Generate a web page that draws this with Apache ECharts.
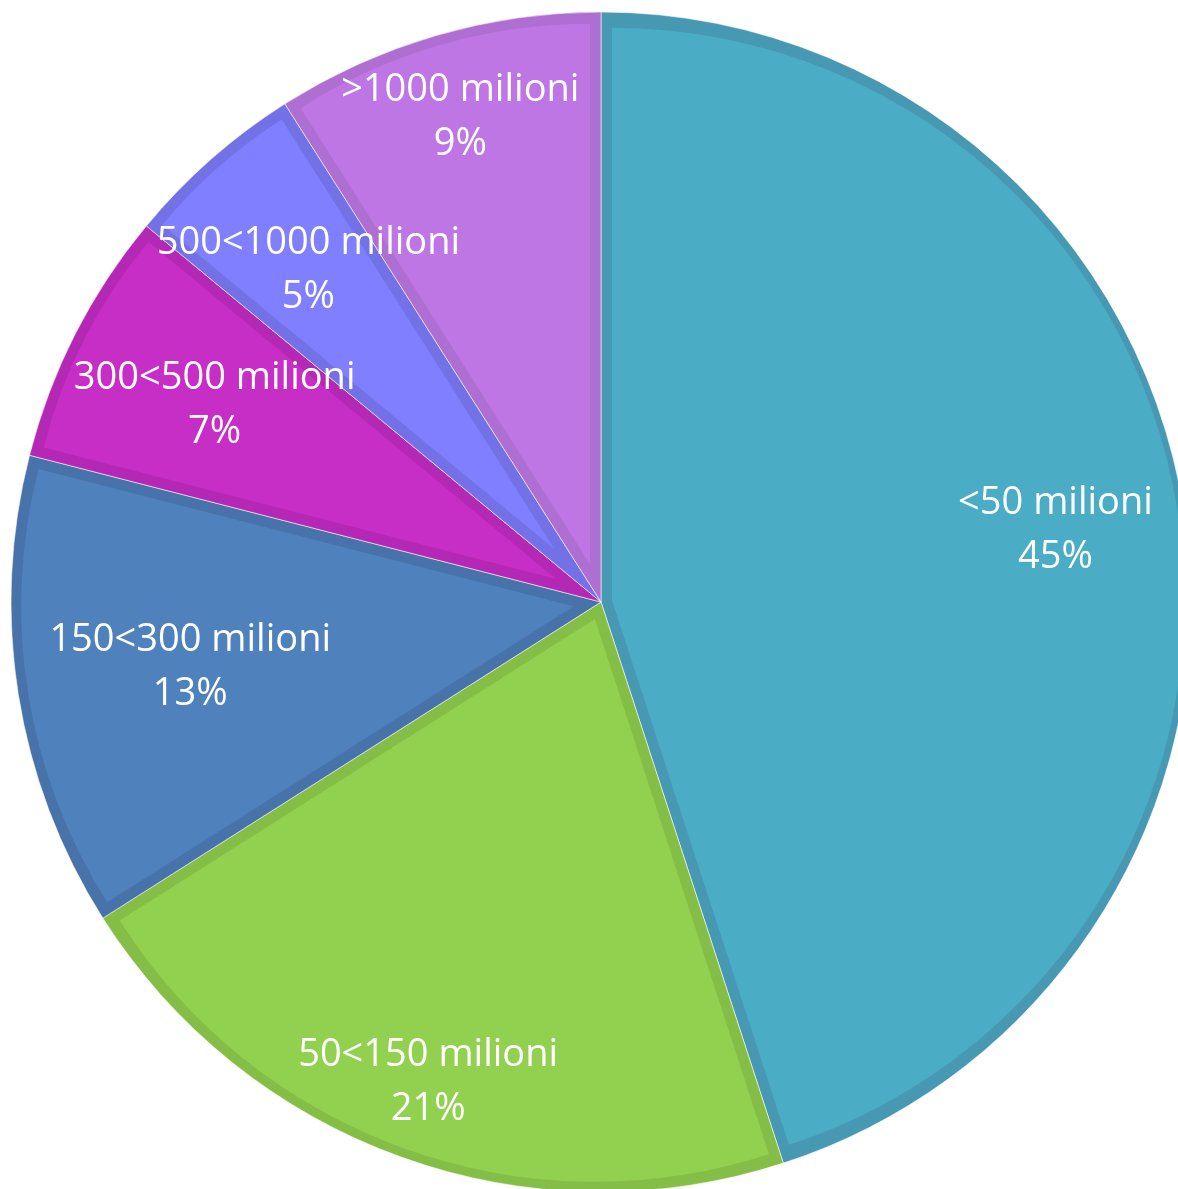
<!DOCTYPE html>
<html>
<head>
<meta charset="utf-8">
<title>Distribuzione per fascia</title>
<script src="https://cdn.jsdelivr.net/npm/echarts@6/dist/echarts.min.js"></script>
<style>
  html, body { margin: 0; padding: 0; background: #ffffff; }
  #chart { width: 1178px; height: 1189px; }
</style>
</head>
<body>
<div id="chart"></div>
<script>
// Fasce di valore e quote percentuali
const categories = ['<50 milioni', '50<150 milioni', '150<300 milioni', '300<500 milioni', '500<1000 milioni', '>1000 milioni'];
const shares = [45, 21, 13, 7, 5, 9];

// Colori di riempimento e dei bordi interni di ciascuna fetta
const fillColors = ['#4BACC6', '#92D050', '#4F81BD', '#C62EC6', '#7F7FFF', '#BE76E4'];
const edgeColors = ['#4799B3', '#85BE47', '#4773AA', '#B527B5', '#7272E6', '#AF6ED1'];

// Distanza radiale delle etichette (frazione del raggio)
const labelRadius = [0.785, 0.87, 0.71, 0.74, 0.755, 0.86];

const CENTER = [601, 602];
const R = 590;
const INSET = 11; // spessore del bordo interno

const chart = echarts.init(document.getElementById('chart'), null, { renderer: 'canvas' });

const total = shares.reduce((a, b) => a + b, 0);

function items(colors) {
  return categories.map((name, i) => ({
    name: name,
    value: shares[i],
    itemStyle: { color: colors ? colors[i] : 'rgba(0,0,0,0)' }
  }));
}

const series = [
  // fette piene nel colore scuro: restano visibili come bordo
  {
    type: 'pie',
    z: 1,
    center: CENTER,
    radius: R,
    startAngle: 90,
    clockwise: true,
    silent: true,
    label: { show: false },
    labelLine: { show: false },
    itemStyle: { borderColor: 'rgba(255,255,255,0.55)', borderWidth: 1 },
    data: items(edgeColors)
  }
];

// riempimento chiaro di ogni fetta: stessa apertura, spostato lungo la bisettrice
// così i due lati restano a distanza costante dai lati della fetta scura
categories.forEach((name, k) => {
  const half = Math.PI * shares[k] / total;
  const shift = INSET / Math.sin(half);
  const r = R - INSET - shift * (1 + Math.cos(half)) / 2;
  series.push({
    type: 'pie',
    z: 2,
    center: CENTER,
    radius: r,
    startAngle: 90,
    clockwise: true,
    silent: true,
    selectedMode: 'multiple',
    selectedOffset: shift,
    label: { show: false },
    labelLine: { show: false },
    itemStyle: { borderWidth: 0 },
    select: { itemStyle: { color: fillColors[k], borderWidth: 0 } },
    data: items(null).map((d, i) => Object.assign(d, {
      selected: i === k,
      itemStyle: { color: i === k ? fillColors[k] : 'rgba(0,0,0,0)', borderWidth: 0 }
    }))
  });
});

// una serie trasparente per etichetta, ognuna con la propria distanza dal centro
categories.forEach((name, k) => {
  const f = labelRadius[k];
  series.push({
    type: 'pie',
    z: 5,
    center: CENTER,
    radius: [(2 * f - 1) * R - 6, R - 6],
    startAngle: 90,
    clockwise: true,
    silent: true,
    labelLine: { show: false },
    itemStyle: { borderWidth: 0 },
    label: {
      position: 'inside',
      formatter: '{b}\n{d}%',
      color: '#ffffff',
      fontFamily: 'Open Sans',
      fontSize: 38,
      lineHeight: 54
    },
    data: items(null).map((d, i) => Object.assign(d, { label: { show: i === k } }))
  });
});

chart.setOption({
  animation: false,
  backgroundColor: '#ffffff',
  series: series
});
</script>
</body>
</html>
